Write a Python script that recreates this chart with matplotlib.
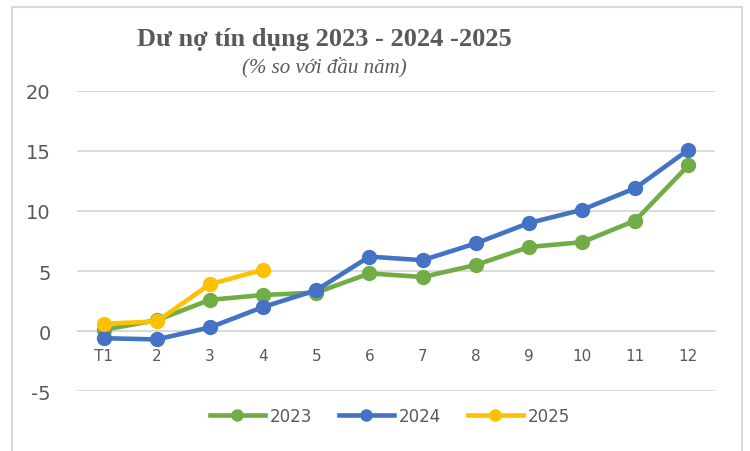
import matplotlib.pyplot as plt
from matplotlib.patches import Rectangle

plt.rcParams['axes.unicode_minus'] = False

# data (% so với đầu năm)
months = ['T1', '2', '3', '4', '5', '6', '7', '8', '9', '10', '11', '12']
y2023 = [0.1, 0.9, 2.6, 3.0, 3.2, 4.8, 4.5, 5.5, 7.0, 7.4, 9.2, 13.8]
y2024 = [-0.6, -0.7, 0.3, 2.0, 3.4, 6.2, 5.9, 7.3, 9.0, 10.1, 11.9, 15.1]
y2025 = [0.6, 0.8, 3.9, 5.1]

grey = '#595959'
fig = plt.figure(figsize=(7.5, 4.52), dpi=100)
ax = fig.add_axes([0.1027, 0.1327, 0.8506, 0.6638])

x = list(range(len(months)))
ax.plot(x, y2023, color='#70AD47', lw=3.3, marker='o', ms=10, label='2023', zorder=3)
ax.plot(x, y2024, color='#4472C4', lw=3.3, marker='o', ms=10, label='2024', zorder=4)
ax.plot(x[:len(y2025)], y2025, color='#FFC000', lw=3.3, marker='o', ms=10, label='2025', zorder=5)

ax.set_xlim(-0.5, len(months) - 0.5)
ax.set_ylim(-5, 20)
ax.set_yticks(range(-5, 21, 5))
ax.yaxis.grid(True, color='#D9D9D9', lw=1.3)
ax.set_axisbelow(True)
for s in ['top', 'right', 'left']:
    ax.spines[s].set_visible(False)
ax.spines['bottom'].set_position(('data', 0))
ax.spines['bottom'].set_color('#D9D9D9')
ax.set_xticks(x)
ax.set_xticklabels(months)
ax.tick_params(axis='x', length=0, pad=12, labelsize=11, labelcolor=grey)
ax.tick_params(axis='y', length=0, pad=19, labelsize=14, labelcolor=grey)

fig.text(0.433, 0.912, 'Dư nợ tín dụng 2023 - 2024 -2025', ha='center', va='center',
         family='Liberation Serif', fontweight='bold', fontsize=19, color=grey)
fig.text(0.433, 0.852, '(% so với đầu năm)', ha='center', va='center',
         family='Liberation Serif', style='italic', fontsize=15, color=grey)

leg = fig.legend(loc='center', bbox_to_anchor=(0.52, 0.077), ncol=3, frameon=False,
                 fontsize=12, handlelength=3.3, columnspacing=1.6, handletextpad=0.3,
                 markerscale=0.8)
for t in leg.get_texts():
    t.set_color(grey)

fig.patches.append(Rectangle((12 / 750, -0.05), 730 / 750, 1.05 - 8 / 452,
                             transform=fig.transFigure, fill=False,
                             edgecolor='#D9D9D9', lw=1.5))

fig.savefig('out.png', dpi=100)
